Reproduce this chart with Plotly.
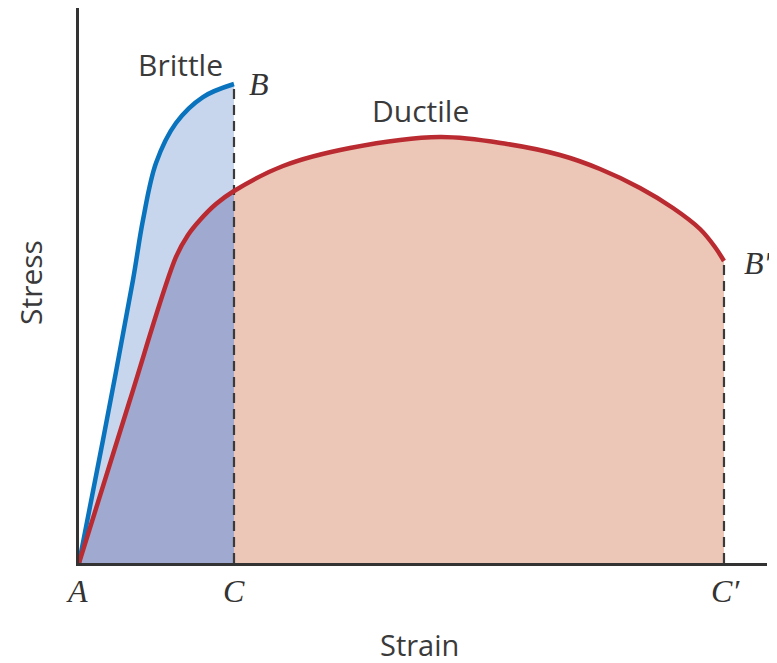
import plotly.graph_objects as go

# Strain (arbitrary units, C' = 100) and stress (arbitrary units, axis top = 100)
brittle_strain = [0, 3.72, 8.37, 9.92, 11.94, 15.04, 19.22, 24.03]
brittle_stress = [0, 22.16, 50.99, 61.80, 72.07, 79.28, 83.96, 86.31]

ductile_strain = [0, 7.75, 15.04, 16.90, 18.76, 21.24, 24.03, 31.63, 42.02, 55.97,
                  66.36, 74.57, 80.78, 86.98, 92.09, 96.28, 98.60, 100]
ductile_stress = [0, 28.83, 55.14, 59.10, 61.80, 64.68, 67.03, 71.53, 74.77, 76.76,
                  75.50, 73.51, 70.99, 67.57, 63.96, 60.18, 56.94, 54.41]

strain_C = brittle_strain[-1]
strain_Cp = ductile_strain[-1]
stress_B = brittle_stress[-1]
stress_Bp = ductile_stress[-1]

overlap_strain = [s for s in ductile_strain if s <= strain_C]
overlap_stress = ductile_stress[:len(overlap_strain)]

BLUE_FILL = "#c8d6ed"
SALMON_FILL = "#ecc6b6"
OVERLAP_FILL = "#a0a9d0"
BLUE = "#0a73bd"
RED = "#b92b30"
DARK = "#333333"
SM = 1.0

fig = go.Figure()
# fills
fig.add_trace(go.Scatter(x=brittle_strain, y=brittle_stress, mode="lines", fill="tozeroy",
                         fillcolor=BLUE_FILL, line=dict(width=0, shape="spline", smoothing=SM),
                         hoverinfo="skip"))
fig.add_trace(go.Scatter(x=ductile_strain, y=ductile_stress, mode="lines", fill="tozeroy",
                         fillcolor=SALMON_FILL, line=dict(width=0, shape="spline", smoothing=SM),
                         hoverinfo="skip"))
fig.add_trace(go.Scatter(x=overlap_strain, y=overlap_stress, mode="lines", fill="tozeroy",
                         fillcolor=OVERLAP_FILL, line=dict(width=0, shape="spline", smoothing=SM),
                         hoverinfo="skip"))
# dashed verticals
fig.add_trace(go.Scatter(x=[strain_C, strain_C], y=[0, stress_B], mode="lines",
                         line=dict(color="#3a3a3a", width=2.2, dash="10px,6px"), hoverinfo="skip"))
fig.add_trace(go.Scatter(x=[strain_Cp, strain_Cp], y=[0, stress_Bp], mode="lines",
                         line=dict(color="#3a3a3a", width=2.2, dash="10px,6px"), hoverinfo="skip"))
# curves
fig.add_trace(go.Scatter(x=brittle_strain, y=brittle_stress, mode="lines",
                         line=dict(color=BLUE, width=4.5, shape="spline", smoothing=SM)))
fig.add_trace(go.Scatter(x=ductile_strain, y=ductile_stress, mode="lines",
                         line=dict(color=RED, width=4.5, shape="spline", smoothing=SM)))

sans = dict(family="Open Sans", size=30, color="#3a3a3a")
serif = dict(family="Liberation Serif", size=32, color=DARK)

ann = [
    dict(x=15.66, y=89.9, text="Brittle", font=sans),
    dict(x=52.87, y=81.6, text="Ductile", font=sans),
    dict(x=27.9, y=86.3, text="<i>B</i>", font=serif),
    dict(x=105.2, y=54.0, text="<i>B′</i>", font=serif),
]
for a in ann:
    fig.add_annotation(xref="x", yref="y", showarrow=False, xanchor="center", yanchor="middle", **a)

# point labels below the strain axis
for sx, txt, dx in [(0, "<i>A</i>", -2), (strain_C, "<i>C</i>", 0), (strain_Cp, "<i>C′</i>", 2)]:
    fig.add_annotation(xref="x", yref="paper", x=sx, y=-0.051, text=txt, font=serif,
                       showarrow=False, xanchor="center", yanchor="middle", xshift=dx)

fig.add_annotation(xref="paper", yref="paper", x=-0.0712, y=0.5045, text="Stress", textangle=-90,
                   showarrow=False, font=sans, xanchor="center", yanchor="middle")
fig.add_annotation(xref="paper", yref="paper", x=0.4956, y=-0.146,
                   text="Strain", showarrow=False, font=dict(family="Open Sans", size=29, color="#3a3a3a"),
                   xanchor="center", yanchor="middle")

fig.update_layout(
    width=769, height=655,
    margin=dict(l=71, r=10, t=0, b=100),
    plot_bgcolor="white", paper_bgcolor="white",
    showlegend=False,
    xaxis=dict(range=[0, 106.67], showgrid=False, zeroline=False, showticklabels=False,
               ticks="", showline=True, linecolor=DARK, linewidth=2.5, fixedrange=True),
    yaxis=dict(range=[0, 100], showgrid=False, zeroline=False, showticklabels=False,
               ticks="", showline=True, linecolor=DARK, linewidth=2.5, fixedrange=True),
)

fig.write_html("out.html")
